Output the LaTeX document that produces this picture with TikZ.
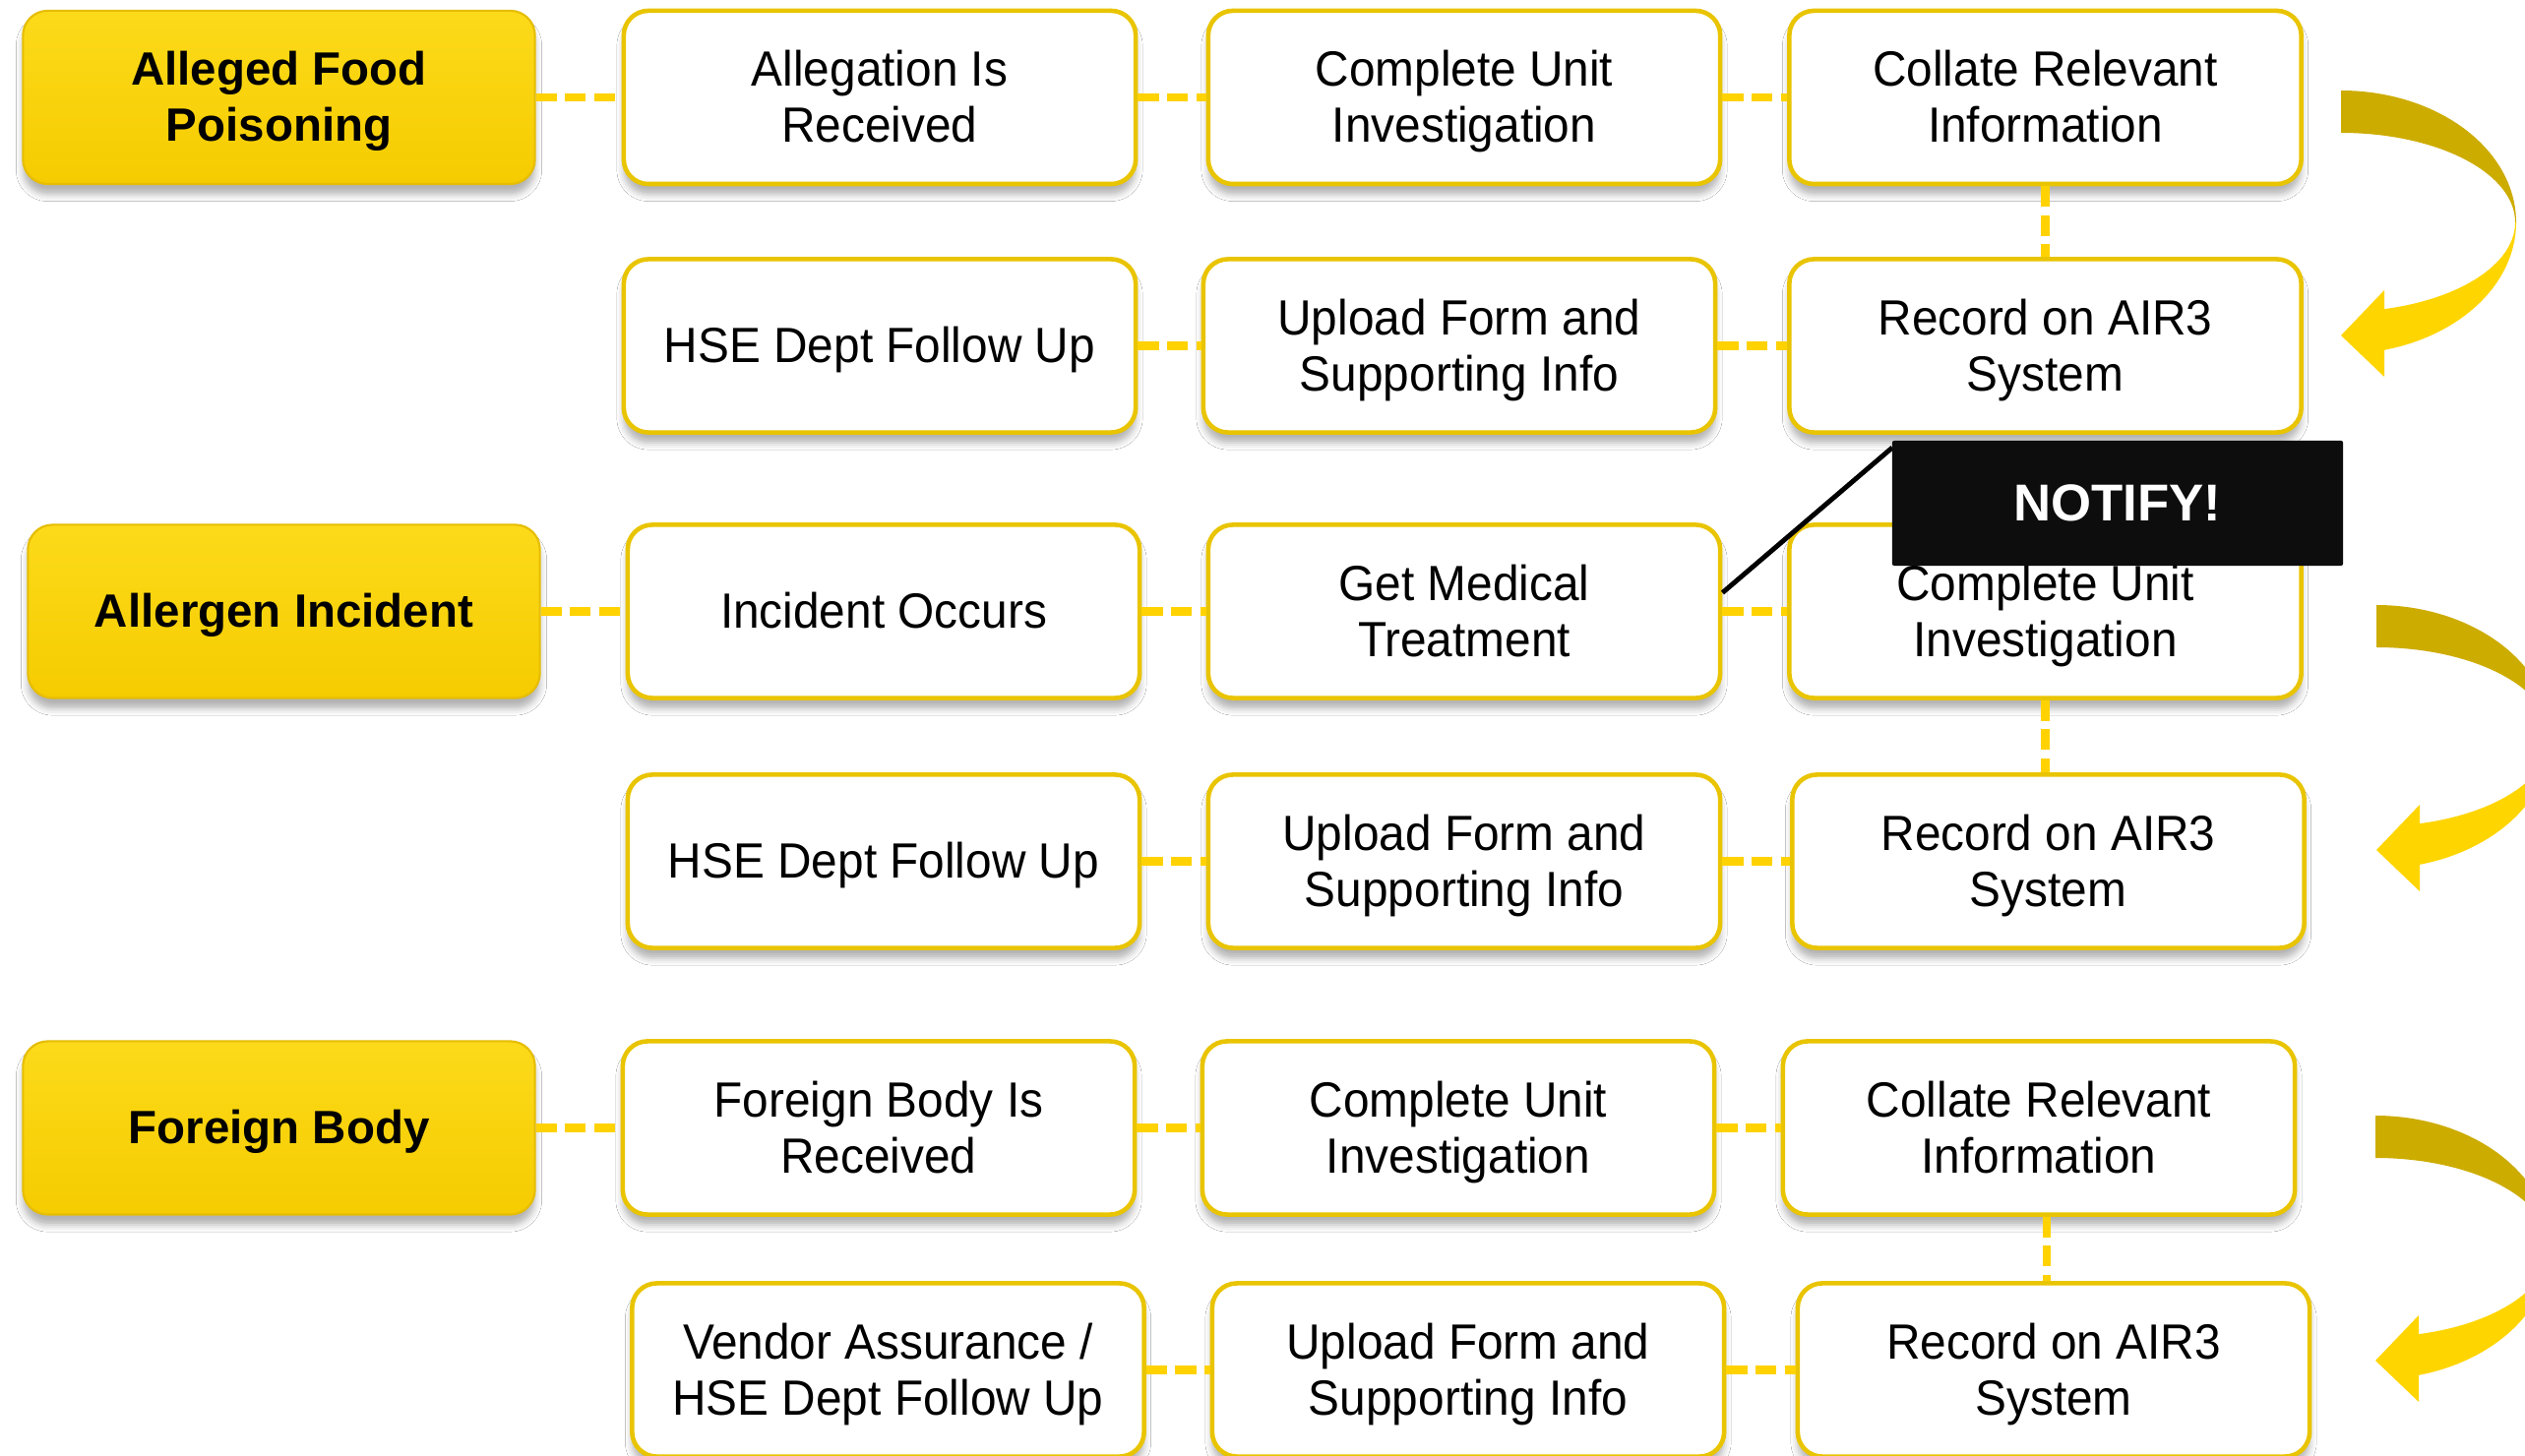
\documentclass[tikz,border=0pt]{standalone}
\usepackage{fontspec}
\setmainfont{Liberation Sans}
\newfontfamily\stepfont[FakeStretch=0.95]{Liberation Sans}
\usetikzlibrary{calc,shadows.blur}

\definecolor{goldline}{HTML}{E9C400}
\definecolor{catline}{HTML}{E6BD00}
\definecolor{catlight}{HTML}{FCDA1A}
\definecolor{catdark}{HTML}{F5CC00}
\definecolor{linkyellow}{HTML}{FFD200}
\definecolor{arrowdark}{HTML}{CDAC00}
\definecolor{arrowbright}{HTML}{FFD500}
\definecolor{notefill}{HTML}{0D0D0D}

% fixed ascent / descent for the first and last text line, so that lines
% sit in the box the same way whatever letters they contain
\newcommand\la{\rule[-0.212em]{0pt}{1.117em}}

\tikzset{
  stepbox/.style={draw=goldline, line width=1.3pt, fill=white,
    rounded corners=0.25cm, minimum width=5.2cm, minimum height=1.76cm,
    inner sep=0pt, align=center,
    font=\stepfont\fontsize{14.3}{16.2}\selectfont,
    execute at end node=\la,
    blur shadow={shadow xshift=0pt, shadow yshift=-3pt,
      shadow blur radius=2pt, shadow opacity=30}},
  catbox/.style={stepbox, draw=catline, line width=0.6pt,
    top color=catlight, bottom color=catdark,
    font=\bfseries\fontsize{13.5}{16.2}\selectfont},
  link/.style={draw=linkyellow, line width=2.3pt, dash pattern=on 6pt off 2.4pt},
  notebox/.style={fill=notefill, rounded corners=0.6pt,
    minimum width=4.58cm, minimum height=1.27cm, inner sep=0pt,
    text=white, font=\bfseries\fontsize{15}{18}\selectfont},
  turnarrow/.pic={
    % back face of the curved arrow (upper half)
    \fill[arrowdark]
      plot[domain=-90:0, samples=40, variable=\t] ({178*cos(\t)},{134*sin(\t)})
      -- plot[domain=0:-90, samples=40, variable=\t] ({177*cos(\t)},{91*sin(\t)})
      -- cycle;
    % front face with the arrow head (lower half)
    \fill[arrowbright]
      plot[domain=0:75.69, samples=40, variable=\t] ({178*cos(\t)},{134*sin(\t)})
      -- (44,157) -- (0,115) -- (44,69)
      -- plot[domain=75.61:0, samples=40, variable=\t] ({177*cos(\t)},{91*sin(\t)})
      -- cycle;
  }
}

\begin{document}
\begin{tikzpicture}[x=0.01cm, y=-0.01cm]
\useasboundingbox (0,0) rectangle (2566,1480);
\begin{scope}
\clip (0,0) rectangle (2566,1480);
\fill[white] (0,0) rectangle (2566,1480);

% ---- Alleged food poisoning ----
\node[catbox]  (cat1) at (283.5,99) {\la Alleged Food\\Poisoning};
\node[stepbox] (r1c1) at (894,99)    {\la Allegation Is\\Received};
\node[stepbox] (r1c2) at (1488,99)   {\la Complete Unit\\Investigation};
\node[stepbox] (r1c3) at (2078.5,99) {\la Collate Relevant\\Information};
\node[stepbox] (r2c1) at (894,351.5)    {\la HSE Dept Follow Up};
\node[stepbox] (r2c2) at (1483,351.5)   {\la Upload Form and\\Supporting Info};
\node[stepbox] (r2c3) at (2078.5,351.5) {\la Record on AIR3\\System};

% ---- Allergen incident ----
\node[catbox]  (cat2) at (288.5,621.5) {\la Allergen Incident};
\node[stepbox] (r3c1) at (898,621.5)    {\la Incident Occurs};
\node[stepbox] (r3c2) at (1488,621.5)   {\la Get Medical\\Treatment};
\node[stepbox] (r3c3) at (2078.5,621.5) {\la Complete Unit\\Investigation};
\node[stepbox] (r4c1) at (898,875.5)    {\la HSE Dept Follow Up};
\node[stepbox] (r4c2) at (1488,875.5)   {\la Upload Form and\\Supporting Info};
\node[stepbox] (r4c3) at (2081.5,875.5) {\la Record on AIR3\\System};

% ---- Foreign body ----
\node[catbox]  (cat3) at (283.5,1146.5) {\la Foreign Body};
\node[stepbox] (r5c1) at (893,1146.5)  {\la Foreign Body Is\\Received};
\node[stepbox] (r5c2) at (1482,1146.5) {\la Complete Unit\\Investigation};
\node[stepbox] (r5c3) at (2072,1146.5) {\la Collate Relevant\\Information};
\node[stepbox] (r6c1) at (902.5,1392.5) {\la Vendor Assurance /\\HSE Dept Follow Up};
\node[stepbox] (r6c2) at (1492,1392.5)  {\la Upload Form and\\Supporting Info};
\node[stepbox] (r6c3) at (2087,1392.5)  {\la Record on AIR3\\System};

% dashed links between the steps
\draw[link] (cat1) -- (r1c1);
\draw[link] (r1c1) -- (r1c2);
\draw[link] (r1c2) -- (r1c3);
\draw[link] (r1c3.south) -- (r1c3.south |- r2c3.north);
\draw[link] (r2c1) -- (r2c2);
\draw[link] (r2c2) -- (r2c3);

\draw[link] (cat2) -- (r3c1);
\draw[link] (r3c1) -- (r3c2);
\draw[link] (r3c2) -- (r3c3);
\draw[link] (r3c3.south) -- (r3c3.south |- r4c3.north);
\draw[link] (r4c1) -- (r4c2);
\draw[link] (r4c2) -- (r4c3);

\draw[link] (cat3) -- (r5c1);
\draw[link] (r5c1) -- (r5c2);
\draw[link] (r5c2) -- (r5c3);
\draw[link] ([xshift=0.08cm]r5c3.south) -- ([xshift=0.08cm]r5c3.south |- r6c3.north);
\draw[link] (r6c1) -- (r6c2);
\draw[link] (r6c2) -- (r6c3);

% notification callout
\coordinate (notepos) at (2152,511.5);
\draw[line width=1.4pt, black] ($(notepos)+(-229,-56.5)$) -- ($(r3c2.east)+(0,-19)$);
\node[notebox] (notify) at (notepos) {NOTIFY!};

% curved turn arrows at the end of each first row
\pic at (2379,226) {turnarrow};
\pic at (2415,749) {turnarrow};
\pic at (2414,1268) {turnarrow};
\end{scope}
\end{tikzpicture}
\end{document}
